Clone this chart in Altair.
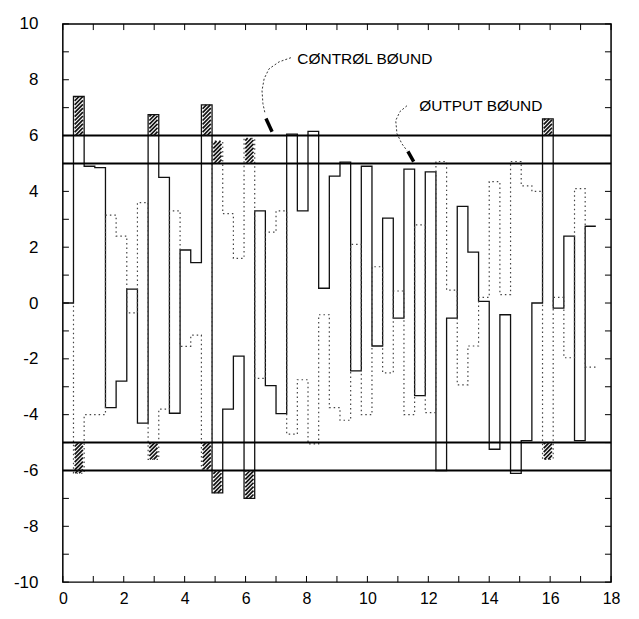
import altair as alt
import pandas as pd

# sample instants (step edges)
times = [0.00, 0.35, 0.70, 1.05, 1.40, 1.75, 2.10, 2.45, 2.80, 3.15, 3.50, 3.85, 4.20,
         4.55, 4.90, 5.25, 5.60, 5.95, 6.30, 6.65, 7.00, 7.35, 7.70, 8.05, 8.40, 8.75,
         9.10, 9.45, 9.80, 10.15, 10.50, 10.85, 11.20, 11.55, 11.90, 12.25, 12.60,
         12.95, 13.30, 13.65, 14.00, 14.35, 14.70, 15.05, 15.40, 15.75, 16.10, 16.45,
         16.80, 17.15, 17.50]

# control signal (solid staircase)
control = [0, 7.4, 4.9, 4.85, -3.75, -2.8, 0.5, -4.3, 6.75, 4.5, -3.95, 1.9, 1.45, 7.1,
           -6.8, -3.8, -1.9, -7.0, 3.3, -2.96, -3.96, 6.05, 3.3, 6.15, 0.53, 4.55, 5.05,
           -2.43, 4.9, -1.54, 3.04, -0.54, 4.8, -3.32, 4.7, -6.0, -0.54, 3.46, 1.82, 0.06,
           -5.24, -0.42, -6.1, -4.93, 0.0, 6.6, -0.18, 2.4, -4.93, 2.75]

# output signal (dotted staircase)
output = [0, -6.1, -4.0, -4.0, 3.15, 2.4, -0.35, 3.6, -5.6, -3.8, 3.3, -1.55, -1.15, -5.95,
          5.8, 3.2, 1.6, 5.9, -2.7, 2.54, 3.3, -4.7, -2.75, -5.05, -0.42, -3.75, -4.2, 2.1,
          -4.0, 1.3, -2.5, 0.43, -4.0, 2.8, -3.93, 5.07, 0.46, -2.93, -1.54, 0.2, 4.35, 0.3,
          5.07, 4.2, 4.0, -5.6, 0.2, -1.96, 4.1, -2.3]

control_bound = 6
output_bound = 5
bound_lines = [6, 5, -5, -6]

x_labels = [0, 2, 4, 6, 8, 10, 12, 14, 16, 18]
y_labels = [-10, -8, -6, -4, -2, 0, 2, 4, 6, 8, 10]
x_minor = list(range(0, 19))
y_minor = list(range(-10, 11))

# annotations
notes = ["CØNTRØL BØUND", "ØUTPUT BØUND"]
note_x = [7.70, 11.70]
note_y = [8.75, 7.07]
ctrl_leader_x = [7.49, 7.10, 6.77, 6.61, 6.54, 6.57, 6.64]
ctrl_leader_y = [8.79, 8.64, 8.39, 8.04, 7.61, 7.14, 6.79]
ctrl_tip_x = [6.67, 6.87]
ctrl_tip_y = [6.61, 6.14]
out_leader_x = [11.30, 11.07, 10.93, 10.97, 11.13, 11.30]
out_leader_y = [7.07, 6.86, 6.54, 6.07, 5.71, 5.46]
out_tip_x = [11.33, 11.52]
out_tip_y = [5.43, 5.07]

W, H = 550, 560
xs = alt.Scale(domain=[0, 18], nice=False, zero=False)
ys = alt.Scale(domain=[-10, 10], nice=False, zero=False)
FONT = "Liberation Sans"

x_axis = alt.Axis(values=x_labels, title=None, grid=False, ticks=False, domain=False,
                  labelFontSize=16, labelFont=FONT, labelColor="black", labelPadding=8,
                  labelFlush=False, labelOverlap=False,
                  labelExpr="datum.value + ''")
y_axis = alt.Axis(values=y_labels, title=None, grid=False, ticks=False, domain=False,
                  labelFontSize=17, labelFont=FONT, labelColor="black", labelPadding=25,
                  labelFlush=False, labelOverlap=False,
                  labelExpr="datum.value + ''")

# step series
step_rows = []
for name, vals in (("control", control), ("output", output)):
    for k, t in enumerate(times):
        v = vals[min(k, len(vals) - 1)]
        step_rows.append({"series": name, "t": t, "v": v, "k": k})
steps = pd.DataFrame(step_rows)

# hatch strokes for the parts beyond the bounds
hatch_rows = []
def add_box(t0, t1, lo, hi):
    inset = 0.04
    a, b = t0 + inset, t1 - inset
    w = b - a
    dy, step = 0.3, 0.14
    yi = lo - dy
    while yi < hi:
        s0 = max(0.0, (lo - yi) / dy)
        s1 = min(1.0, (hi - yi) / dy)
        if s1 > s0:
            hatch_rows.append({"x1": a + s0 * w, "y1": yi + dy * s0,
                               "x2": a + s1 * w, "y2": yi + dy * s1})
        yi += step

for vals, bnd in ((control, control_bound), (output, output_bound)):
    for k, v in enumerate(vals):
        if v > bnd + 0.3:
            add_box(times[k], times[k + 1], bnd, v)
        elif v < -bnd - 0.3:
            add_box(times[k], times[k + 1], v, -bnd)
hatch = pd.DataFrame(hatch_rows)

bounds_df = pd.DataFrame({"b": bound_lines})

base_x = alt.X("t:Q", scale=xs, axis=x_axis)
base_y = alt.Y("v:Q", scale=ys, axis=y_axis)

ctrl_line = alt.Chart(steps[steps.series == "control"]).mark_line(
    interpolate="step-after", color="#111", strokeWidth=1.3
).encode(x=base_x, y=base_y, order="k:Q")

out_line = alt.Chart(steps[steps.series == "output"]).mark_line(
    interpolate="step-after", color="#444", strokeWidth=1.2, strokeDash=[1.5, 3]
).encode(x=base_x, y=base_y, order="k:Q")

bound_rules = alt.Chart(bounds_df).mark_rule(color="black", strokeWidth=2).encode(
    y=alt.Y("b:Q", scale=ys), x=alt.datum(0), x2=alt.datum(18))

hatch_rules = alt.Chart(hatch).mark_rule(color="#111", strokeWidth=1.7).encode(
    x=alt.X("x1:Q", scale=xs), y=alt.Y("y1:Q", scale=ys),
    x2="x2:Q", y2="y2:Q")

# minor ticks (inward) on all four sides
tick_rows = []
for v in x_minor:
    tick_rows.append({"x1": v, "y1": -10, "x2": v, "y2": -9.78})
    tick_rows.append({"x1": v, "y1": 10, "x2": v, "y2": 9.78})
for v in y_minor:
    tick_rows.append({"x1": 0, "y1": v, "x2": 0.2, "y2": v})
    tick_rows.append({"x1": 18, "y1": v, "x2": 17.8, "y2": v})
ticks_df = pd.DataFrame(tick_rows)
tick_rules = alt.Chart(ticks_df).mark_rule(color="black", strokeWidth=1).encode(
    x=alt.X("x1:Q", scale=xs), y=alt.Y("y1:Q", scale=ys), x2="x2:Q", y2="y2:Q")

notes_df = pd.DataFrame({"label": notes, "tx": note_x, "ty": note_y})
note_text = alt.Chart(notes_df).mark_text(
    align="left", baseline="middle", font=FONT, fontSize=15.5, color="black"
).encode(x=alt.X("tx:Q", scale=xs), y=alt.Y("ty:Q", scale=ys), text="label:N")

def path_df(px, py, name):
    return pd.DataFrame({"px": px, "py": py, "i": list(range(len(px))), "g": name})

leaders = pd.concat([path_df(ctrl_leader_x, ctrl_leader_y, "c"),
                     path_df(out_leader_x, out_leader_y, "o")])
tips = pd.concat([path_df(ctrl_tip_x, ctrl_tip_y, "c"),
                  path_df(out_tip_x, out_tip_y, "o")])
leader_lines = alt.Chart(leaders).mark_line(
    color="#333", strokeWidth=1, strokeDash=[2, 2]
).encode(x=alt.X("px:Q", scale=xs), y=alt.Y("py:Q", scale=ys), order="i:Q", detail="g:N")
tip_lines = alt.Chart(tips).mark_line(color="black", strokeWidth=3.5).encode(
    x=alt.X("px:Q", scale=xs), y=alt.Y("py:Q", scale=ys), order="i:Q", detail="g:N")

chart = alt.layer(
    ctrl_line, out_line, bound_rules, hatch_rules, tick_rules,
    leader_lines, tip_lines, note_text
).properties(
    width=W, height=H,
    padding={"left": 55, "top": 15, "right": 20, "bottom": 28},
    autosize=alt.AutoSizeParams(type="none"),
    background="white",
).configure_view(stroke="black", strokeWidth=1.5)

chart.save("out.html", embed_options={"renderer": "svg", "actions": False})
